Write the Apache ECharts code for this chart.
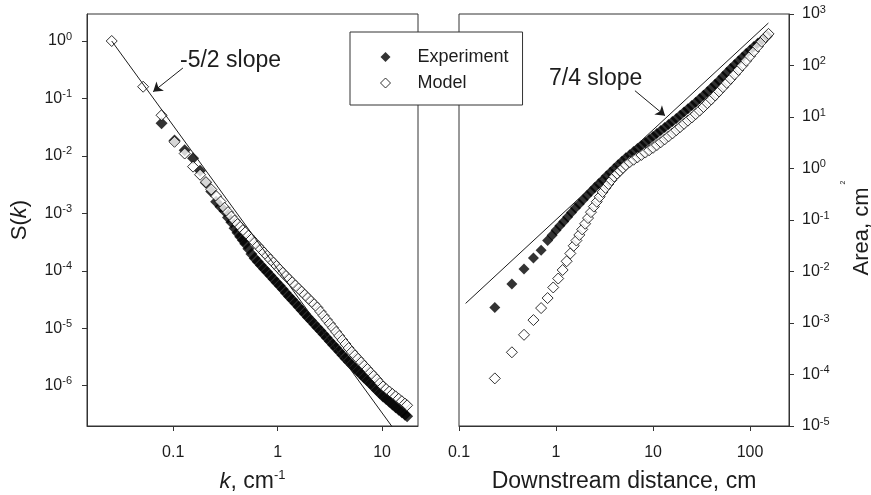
<!DOCTYPE html>
<html><head><meta charset="utf-8">
<script src="https://cdn.jsdelivr.net/npm/echarts@6/dist/echarts.min.js"></script>
<style>html,body{margin:0;padding:0;background:#fff}#c{width:871px;height:495px}</style>
</head><body><div id="c"></div>
<script>
const FONT = '"Liberation Sans", Arial, Helvetica, sans-serif';

// ---------- Left panel: spectrum S(k) ----------
const leftEarlyModelK = [0.0258, 0.0516, 0.0774, 0.103, 0.129, 0.155, 0.181, 0.206, 0.232, 0.258, 0.284, 0.31, 0.335, 0.361, 0.387, 0.413, 0.439, 0.465];
const leftEarlyModelS = [1.0, 0.16, 0.051, 0.0176, 0.011, 0.0065, 0.0047, 0.0035, 0.0026, 0.0020, 0.0016, 0.00125, 0.00105, 8.8e-4, 7.5e-4, 6.5e-4, 5.8e-4, 5.1e-4];
const leftEarlyExpK = [0.0774, 0.103, 0.129, 0.155, 0.181, 0.206, 0.232, 0.258, 0.284, 0.31, 0.335, 0.361, 0.387, 0.413, 0.439, 0.465];
const leftEarlyExpS = [0.037, 0.0185, 0.0125, 0.0091, 0.0055, 0.0034, 0.0024, 0.0016, 0.0013, 0.0011, 8.5e-4, 7.0e-4, 5.5e-4, 4.6e-4, 3.9e-4, 3.4e-4];
const leftBandK = [0.49, 0.525, 0.562, 0.603, 0.646, 0.692, 0.741, 0.794, 0.851, 0.912, 0.977, 1.047, 1.122, 1.202, 1.288, 1.38, 1.479, 1.585, 1.698, 1.82, 1.95, 2.089, 2.239, 2.399, 2.57, 2.754, 2.951, 3.162, 3.388, 3.631, 3.89, 4.169, 4.467, 4.786, 5.129, 5.495, 5.888, 6.31, 6.761, 7.244, 7.762, 8.318, 8.913, 9.55, 10.23, 10.96, 11.75, 12.59, 13.49, 14.45, 15.49, 16.6, 17.38];
const leftBandModelS = [4.68e-4, 4.09e-4, 3.57e-4, 3.12e-4, 2.72e-4, 2.38e-4, 2.08e-4, 1.82e-4, 1.58e-4, 1.39e-4, 1.21e-4, 1.06e-4, 9.23e-5, 8.11e-5, 7.16e-5, 6.31e-5, 5.57e-5, 4.91e-5, 4.34e-5, 3.82e-5, 3.37e-5, 2.97e-5, 2.62e-5, 2.30e-5, 1.95e-5, 1.66e-5, 1.41e-5, 1.20e-5, 1.02e-5, 8.65e-6, 7.36e-6, 6.24e-6, 5.31e-6, 4.52e-6, 3.88e-6, 3.38e-6, 2.94e-6, 2.56e-6, 2.23e-6, 1.95e-6, 1.69e-6, 1.48e-6, 1.29e-6, 1.11e-6, 9.70e-7, 8.75e-7, 7.93e-7, 7.19e-7, 6.53e-7, 5.93e-7, 5.37e-7, 4.88e-7, 4.56e-7];
const leftBandExpS = [2.95e-4, 2.42e-4, 1.97e-4, 1.65e-4, 1.44e-4, 1.25e-4, 1.09e-4, 9.51e-5, 8.28e-5, 7.21e-5, 6.28e-5, 5.47e-5, 4.76e-5, 4.11e-5, 3.58e-5, 3.12e-5, 2.72e-5, 2.37e-5, 2.06e-5, 1.79e-5, 1.56e-5, 1.36e-5, 1.19e-5, 1.03e-5, 9.02e-6, 7.85e-6, 6.84e-6, 5.96e-6, 5.19e-6, 4.52e-6, 3.94e-6, 3.44e-6, 2.99e-6, 2.61e-6, 2.29e-6, 2.02e-6, 1.78e-6, 1.57e-6, 1.38e-6, 1.22e-6, 1.08e-6, 9.48e-7, 8.38e-7, 7.38e-7, 6.52e-7, 5.85e-7, 5.25e-7, 4.72e-7, 4.24e-7, 3.80e-7, 3.44e-7, 3.13e-7, 2.95e-7];
const leftSlopeK = [0.0258, 13.0];
const leftSlopeS = [1.0, 1.75e-7];
const leftArrowK = [0.124, 0.0643];
const leftArrowS = [0.339, 0.131];
const leftXTicks = [0.1, 1, 10];
const leftYTicks = [1e-6, 1e-5, 1e-4, 1e-3, 1e-2, 1e-1, 1];

// ---------- Right panel: area vs downstream distance ----------
const rightExpX = [0.234, 0.351, 0.468, 0.585, 0.702, 0.819, 0.912, 1.0, 1.096, 1.202, 1.318, 1.445, 1.585, 1.738, 1.905, 2.089, 2.291, 2.512, 2.754, 3.02, 3.311, 3.631, 3.981, 4.365, 4.786, 5.248, 5.754, 6.31, 6.918, 7.586, 8.318, 9.12, 10, 10.96, 12.02, 13.18, 14.45, 15.85, 17.38, 19.05, 20.89, 22.91, 25.12, 27.54, 30.2, 33.11, 36.31, 39.81, 43.65, 47.86, 52.48, 57.54, 63.1, 69.18, 75.86, 83.18, 91.2, 100, 109.6, 120.2, 131.8, 144.5, 151.4];
const rightExpA = [0.002, 0.0057, 0.0112, 0.0183, 0.026, 0.04, 0.0508, 0.0632, 0.0771, 0.094, 0.1146, 0.1396, 0.1702, 0.2056, 0.2483, 0.2985, 0.3573, 0.4276, 0.507, 0.6012, 0.7129, 0.8453, 1.002, 1.178, 1.384, 1.611, 1.858, 2.143, 2.449, 2.799, 3.199, 3.656, 4.178, 4.775, 5.458, 6.237, 7.129, 8.147, 9.397, 10.84, 12.5, 14.42, 16.63, 19.36, 22.54, 26.36, 30.97, 36.39, 43.15, 51.17, 60.95, 72.95, 87.3, 103.5, 122.7, 144.9, 170.2, 200, 232.8, 271, 309.7, 351.6, 376.7];
const rightModelX = [0.234, 0.351, 0.468, 0.585, 0.702, 0.819, 0.936, 1.053, 1.17, 1.287, 1.404, 1.521, 1.622, 1.738, 1.862, 1.995, 2.138, 2.291, 2.455, 2.63, 2.818, 3.02, 3.236, 3.467, 3.715, 3.981, 4.266, 4.571, 4.898, 5.248, 5.754, 6.31, 6.918, 7.586, 8.318, 9.12, 10, 10.96, 12.02, 13.18, 14.45, 15.85, 17.38, 19.05, 20.89, 22.91, 25.12, 27.54, 30.2, 33.11, 36.31, 39.81, 43.65, 47.86, 52.48, 57.54, 63.1, 69.18, 75.86, 83.18, 91.2, 100, 109.6, 120.2, 131.8, 144.5, 154.9];
const rightModelA = [8.4e-5, 2.7e-4, 5.9e-4, 1.14e-3, 1.95e-3, 3.05e-3, 4.9e-3, 7.3e-3, 0.0107, 0.0158, 0.0224, 0.0316, 0.0399, 0.0512, 0.0656, 0.0845, 0.109, 0.142, 0.182, 0.226, 0.282, 0.35, 0.421, 0.5, 0.594, 0.698, 0.796, 0.906, 1.03, 1.17, 1.33, 1.48, 1.65, 1.83, 2.04, 2.26, 2.52, 2.85, 3.23, 3.67, 4.2, 4.8, 5.53, 6.38, 7.36, 8.49, 9.79, 11.4, 13.3, 15.6, 18.5, 21.9, 26.2, 31.4, 37.9, 45.8, 55.1, 67.1, 81.8, 99.8, 123, 152, 188, 234, 290, 356, 411];
const rightSlopeX = [0.117, 154.5];
const rightSlopeA = [2.4e-3, 668];
const rightArrowX = [6.51, 13.3];
const rightArrowA = [32.4, 10.6];
const rightXTicks = [0.1, 1, 10, 100];
const rightYTicks = [1e-5, 1e-4, 1e-3, 1e-2, 1e-1, 1, 10, 100, 1000];

const seriesNames = ['Experiment', 'Model'];

function zip(a, b) { return a.map((v, i) => [v, b[i]]); }
const powFmt = v => '{b|10}{s|' + Math.round(Math.log10(v)) + '}';
const numFmt = v => v < 1 ? v.toFixed(1) : String(Math.round(v));
const TXT = '#1c1c1c';
const AX = '#333';
const powRich = {
  b: { fontSize: 16, fontFamily: FONT, color: TXT, lineHeight: 20 },
  s: { fontSize: 11, fontFamily: FONT, color: TXT, lineHeight: 12, verticalAlign: 'top' }
};
const nameRich = {
  n: { fontSize: 22, fontFamily: FONT, color: TXT, lineHeight: 26 },
  a: { fontSize: 22, fontFamily: FONT, color: TXT, lineHeight: 44 },
  x: { fontSize: 23, fontFamily: FONT, color: TXT, lineHeight: 26 },
  i: { fontSize: 22, fontFamily: FONT, color: TXT, fontStyle: 'italic', lineHeight: 26 },
  s: { fontSize: 13, fontFamily: FONT, color: TXT, verticalAlign: 'top', lineHeight: 14 },
  t: { fontSize: 7, fontFamily: FONT, color: TXT, verticalAlign: 'top', lineHeight: 8, padding: [0, 0, 0, 3] }
};

function logAxis(grid, min, max, ticks, fmt, margin, extra) {
  return Object.assign({
    type: 'log', logBase: 10, gridIndex: grid, min: min, max: max,
    axisLine: { show: true, onZero: false, lineStyle: { color: AX, width: 1 } },
    axisTick: { show: true, inside: false, length: 5, customValues: ticks, lineStyle: { color: AX } },
    axisLabel: { customValues: ticks, formatter: fmt, margin: margin, fontSize: 16, fontFamily: FONT, color: TXT, rich: powRich },
    splitLine: { show: false }, minorTick: { show: false }
  }, extra);
}

const diamondFilled = { color: '#000000' };
const diamondHollow = { color: '#ffffff', borderColor: '#000000', borderWidth: 1 };
const arrowLine = (ax, ay) => ({
  silent: true, symbol: ['none', 'arrow'], symbolSize: 9, label: { show: false },
  lineStyle: { color: TXT, width: 1, type: 'solid' },
  data: [[{ coord: [ax[0], ay[0]] }, { coord: [ax[1], ay[1]] }]]
});

const option = {
  backgroundColor: '#ffffff',
  animation: false,
  grid: [
    { left: 87, top: 14, width: 331, height: 412, show: true, borderColor: AX, borderWidth: 1, backgroundColor: 'transparent', outerBoundsMode: 'none', containLabel: false },
    { left: 459, top: 14, width: 330, height: 412, show: true, borderColor: AX, borderWidth: 1, backgroundColor: 'transparent', outerBoundsMode: 'none', containLabel: false }
  ],
  xAxis: [
    logAxis(0, 0.01496, 22.1, leftXTicks, numFmt, 19, {
      position: 'bottom',
      name: '{i|k}{x|, cm}{s|-1}', nameLocation: 'middle', nameGap: 43, nameTextStyle: { rich: nameRich }
    }),
    logAxis(1, 0.1, 252, rightXTicks, numFmt, 19, {
      position: 'bottom',
      name: '{x|Downstream distance, cm}', nameLocation: 'middle', nameGap: 43, nameTextStyle: { rich: nameRich }
    })
  ],
  yAxis: [
    logAxis(0, 1.99e-7, 2.95, leftYTicks, powFmt, 15, {
      position: 'left',
      name: '{n|S(}{i|k}{n|)}', nameLocation: 'middle', nameRotate: 90, nameGap: 54, nameTextStyle: { rich: nameRich }
    }),
    logAxis(1, 1e-5, 1e3, rightYTicks, powFmt, 13, {
      position: 'right',
      name: '{a|Area, cm}{t|2}', nameLocation: 'middle', nameRotate: 90, nameGap: 51,
      nameTextStyle: { rich: nameRich, padding: [0, 16, 0, 0] }
    })
  ],
  legend: {
    data: [
      { name: 'Experiment', itemStyle: { color: '#000000' } },
      { name: 'Model', itemStyle: { color: '#ffffff', borderColor: '#000000', borderWidth: 1 } }
    ],
    orient: 'vertical', left: 350, top: 32,
    padding: [16, 14, 13, 30], itemWidth: 10, itemHeight: 10, itemGap: 8,
    backgroundColor: '#ffffff', borderColor: AX, borderWidth: 1, borderRadius: 0,
    selectedMode: false,
    textStyle: { fontSize: 18, fontFamily: FONT, color: TXT, lineHeight: 18, padding: [0, 0, 0, 22] }
  },
  graphic: [
    { type: 'text', left: 180, top: 49, z: 10, style: { text: '-5/2 slope', font: '23px ' + FONT, fill: TXT } },
    { type: 'text', left: 549, top: 67, z: 10, style: { text: '7/4 slope', font: '23px ' + FONT, fill: TXT } }
  ],
  series: [
    { name: 'Experiment', type: 'scatter', xAxisIndex: 0, yAxisIndex: 0, symbol: 'diamond', symbolSize: 12,
      itemStyle: diamondFilled, data: zip(leftEarlyExpK.concat(leftBandK), leftEarlyExpS.concat(leftBandExpS)) },
    { name: 'Model', type: 'scatter', xAxisIndex: 0, yAxisIndex: 0, symbol: 'diamond', symbolSize: 11,
      itemStyle: diamondHollow, data: zip(leftEarlyModelK.concat(leftBandK), leftEarlyModelS.concat(leftBandModelS)) },
    { name: 'Experiment', type: 'scatter', xAxisIndex: 1, yAxisIndex: 1, symbol: 'diamond', symbolSize: 11,
      itemStyle: diamondFilled, data: zip(rightExpX, rightExpA) },
    { name: 'Model', type: 'scatter', xAxisIndex: 1, yAxisIndex: 1, symbol: 'diamond', symbolSize: 11,
      itemStyle: diamondHollow, data: zip(rightModelX, rightModelA) },
    { name: 'slope-5/2', type: 'line', xAxisIndex: 0, yAxisIndex: 0, symbol: 'none', silent: true, z: 5,
      lineStyle: { color: TXT, width: 1 }, data: zip(leftSlopeK, leftSlopeS),
      markLine: arrowLine(leftArrowK, leftArrowS) },
    { name: 'slope7/4', type: 'line', xAxisIndex: 1, yAxisIndex: 1, symbol: 'none', silent: true, z: 5,
      lineStyle: { color: TXT, width: 1 }, data: zip(rightSlopeX, rightSlopeA),
      markLine: arrowLine(rightArrowX, rightArrowA) }
  ]
};
const chart = echarts.init(document.getElementById('c'), null, { renderer: 'canvas' });
chart.setOption(option);
</script>
</body></html>
